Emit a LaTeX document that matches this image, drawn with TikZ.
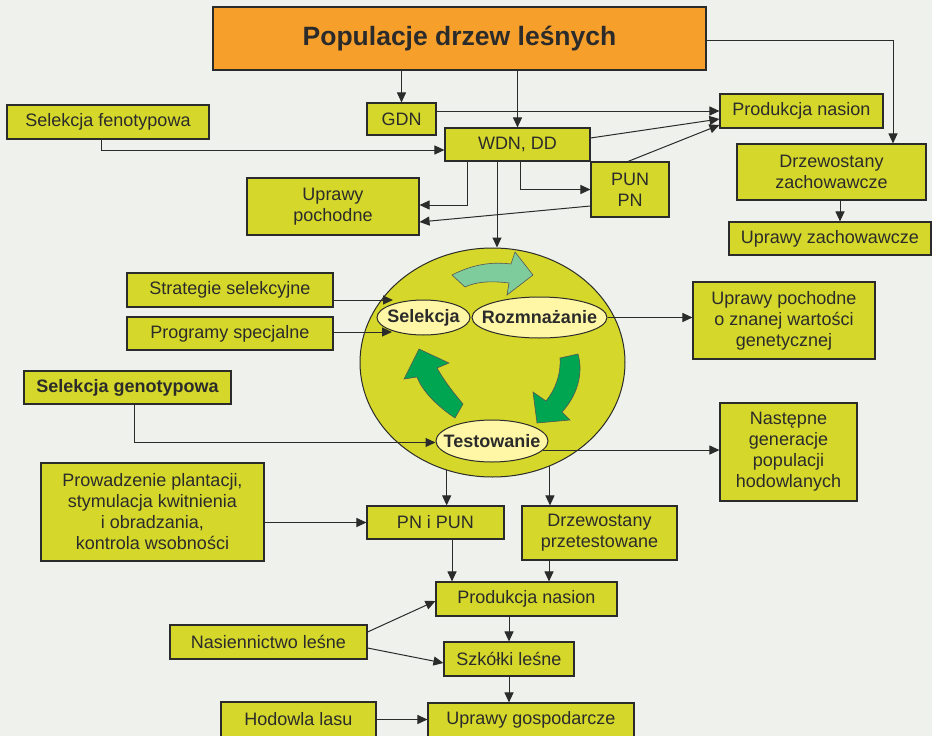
\documentclass[tikz,border=0pt]{standalone}
\usepackage{fontspec}
\setmainfont{Liberation Sans}
\usetikzlibrary{arrows.meta,shapes.geometric}
\definecolor{bgc}{HTML}{EFF1EC}
\definecolor{boxc}{HTML}{D5D82A}
\definecolor{orangec}{HTML}{F6A02B}
\definecolor{ovalc}{HTML}{FFF7A6}
\definecolor{lgreen}{HTML}{7ECB9C}
\definecolor{dgreen}{HTML}{00A551}
\definecolor{linec}{HTML}{2B2B2B}
\begin{document}
\begin{tikzpicture}[x=1pt,y=-1pt,
  box/.style={draw=linec, line width=1.1pt, fill=boxc, text=linec, inner sep=2pt,
    align=center, font=\fontsize{18}{21}\selectfont},
  titlebox/.style={draw=linec, line width=1.1pt, fill=orangec, text=linec,
    font=\fontsize{26.5}{30}\selectfont\bfseries},
  bigoval/.style={ellipse, draw=linec, line width=1pt, fill=boxc, inner sep=0pt},
  oval/.style={ellipse, draw=linec, line width=1pt, fill=ovalc, inner sep=0pt,
    label={[text=linec, font=\fontsize{18}{21}\selectfont\bfseries]center:#1}},
  arr/.style={draw=linec, line width=1pt, -{Triangle[length=10pt,width=9pt]}},
  cyclearrow/.style={draw=linec!80, line width=0.6pt, line join=miter}
]
\useasboundingbox (0,0) rectangle (932,736);
\clip (0,0) rectangle (932,736);
\fill[bgc] (0,0) rectangle (932,736);

% top level
\node[titlebox, minimum width=493pt, minimum height=63pt] (title) at (459.5,38.5) {Populacje drzew leśnych};
\node[box, minimum width=69pt, minimum height=32pt] (gdn) at (401.5,119) {GDN};
\node[box, minimum width=145pt, minimum height=33pt] (wdn) at (517.5,144.5) {WDN, DD};
\node[box, minimum width=202pt, minimum height=34pt] (selfen) at (108,122) {Selekcja fenotypowa};
\node[box, minimum width=163pt, minimum height=34pt] (prod1) at (801.5,111) {Produkcja nasion};
\node[box, minimum width=189pt, minimum height=56pt] (drzzach) at (831.5,172) {Drzewostany\\zachowawcze};
\node[box, minimum width=202pt, minimum height=33pt] (uprzach) at (830,238.5) {Uprawy zachowawcze};
\node[box, minimum width=78pt, minimum height=55pt] (pun) at (630,189.5) {PUN\\PN};
\node[box, minimum width=172pt, minimum height=57pt] (uprpoch) at (333,206.5) {Uprawy\\pochodne};

% breeding cycle
\node[bigoval, minimum width=265pt, minimum height=229pt] (big) at (492.5,362.5) {};
\filldraw[cyclearrow, fill=lgreen]
  (452,275) .. controls (475,263) and (495,262) .. (511,264) -- (515,252) -- (533,275)
  -- (507,295) -- (509,283) .. controls (493,281) and (478,281) .. (465,287) -- cycle;
\filldraw[cyclearrow, fill=dgreen]
  (560,358) -- (578,354) .. controls (584,375) and (576,397) .. (562,412) -- (570,420)
  -- (537,423) -- (533,392) -- (546,401) .. controls (555,390) and (561,375) .. (560,358) -- cycle;
\filldraw[cyclearrow, fill=dgreen]
  (419,349) -- (449,363) -- (437,368) .. controls (445,382) and (453,392) .. (463,404)
  -- (455,418) .. controls (440,408) and (423,393) .. (417,377) -- (404,379) -- cycle;
\node[oval=Selekcja, minimum width=93pt, minimum height=35pt] (sel) at (423.5,317.5) {};
\node[oval=Rozmnażanie, minimum width=135pt, minimum height=41pt] (roz) at (539.5,317.5) {};
\node[oval=Testowanie, minimum width=112pt, minimum height=42pt] (test) at (492,441) {};

% inputs and outputs of the cycle
\node[box, minimum width=206pt, minimum height=34pt] (strat) at (230,290) {Strategie selekcyjne};
\node[box, minimum width=206pt, minimum height=33pt] (prog) at (230,333.5) {Programy specjalne};
\node[box, minimum width=207pt, minimum height=33pt, font=\fontsize{18}{21}\selectfont\bfseries] (selgen) at (127.5,387.5) {Selekcja genotypowa};
\node[box, minimum width=182pt, minimum height=77pt] (uprgen) at (784,320.5) {Uprawy pochodne\\o znanej wartości\\genetycznej};
\node[box, minimum width=137pt, minimum height=98pt] (nast) at (788.5,452) {Następne\\generacje\\populacji\\hodowlanych};

% lower part
\node[box, minimum width=155pt, minimum height=54pt] (drzprz) at (599.5,533) {Drzewostany\\przetestowane};
\node[box, minimum width=137pt, minimum height=33pt] (pnpun) at (435.5,522.5) {PN i PUN};
\node[box, minimum width=223pt, minimum height=98pt] (prow) at (152.5,512) {Prowadzenie plantacji,\\stymulacja kwitnienia\\i obradzania,\\kontrola wsobności};
\node[box, minimum width=181pt, minimum height=34pt] (prod2) at (526.5,599) {Produkcja nasion};
\node[box, minimum width=130pt, minimum height=34pt] (szk) at (509,659) {Szkółki leśne};
\node[box, minimum width=206pt, minimum height=34pt] (uprgosp) at (531,720) {Uprawy gospodarcze};
\node[box, minimum width=197pt, minimum height=34pt] (nasien) at (268.5,642) {Nasiennictwo leśne};
\node[box, minimum width=155pt, minimum height=35pt] (hodowla) at (298.5,719.5) {Hodowla lasu};

\coordinate (selA) at (393,300);
\coordinate (selB) at (392,332);

% connectors
\draw[arr] (title.south -| gdn) -- (gdn.north);
\draw[arr] (title.south -| wdn) -- (wdn.north);
\draw[arr] ([yshift=-1.5pt]title.east) -| ([xshift=61.5pt]drzzach.north);
\draw[arr] (prod1.west -| gdn.east) -- (prod1.west);
\draw[arr] ([yshift=6.5pt]wdn.east) -- ([yshift=-8pt]prod1.west);
\draw[arr] ([xshift=-2pt]pun.north) -- ([yshift=-14pt]prod1.west);
\draw[arr] ([xshift=-7pt]selfen.south) |- ([yshift=-5.5pt]wdn.west);
\draw[arr] ([xshift=-50.5pt]wdn.south) |- ([yshift=1.5pt]uprpoch.east);
\draw[arr] ([yshift=-16.5pt]pun.west) -- ([yshift=-15.5pt]uprpoch.east);
\draw[arr] ([xshift=2.5pt]wdn.south) |- (pun.west);
\draw[arr] ([xshift=-20.5pt]wdn.south) -- ([xshift=-20.5pt]wdn.south |- big.north);
\draw[arr] ([xshift=8.5pt]drzzach.south) -- ([xshift=8.5pt]drzzach.south |- uprzach.north);
\draw[arr] (strat.east |- selA) -- (selA);
\draw[arr] (prog.east |- selB) -- (selB);
\draw[arr] ([xshift=6.5pt]selgen.south) |- ([yshift=-1.5pt]test.west);
\draw[arr] (roz.east) -- (roz.east -| uprgen.west);
\draw[arr] (test.-10) -- (test.-10 -| nast.west);
\draw[arr] (big.247.6) -- (big.247.6 |- pnpun.north);
\draw[arr] (big.-61.9) -- (big.-61.9 |- drzprz.north);
\draw[arr] (pnpun.west -| prow.east) -- (pnpun.west);
\draw[arr] ([xshift=16.5pt]pnpun.south) -- ([xshift=16.5pt]pnpun.south |- prod2.north);
\draw[arr] ([xshift=-50.5pt]drzprz.south) -- ([xshift=-50.5pt]drzprz.south |- prod2.north);
\draw[arr] (prod2.south -| szk) -- (szk.north);
\draw[arr] (szk.south) -- (szk.south |- uprgosp.north);
\draw[arr] ([yshift=10pt]nasien.east) -- ([yshift=-2pt]prod2.west);
\draw[arr] ([yshift=-6pt]nasien.east) -- ([yshift=-4pt]szk.west);
\draw[arr] (hodowla.east) -- (hodowla.east -| uprgosp.west);
\end{tikzpicture}
\end{document}
